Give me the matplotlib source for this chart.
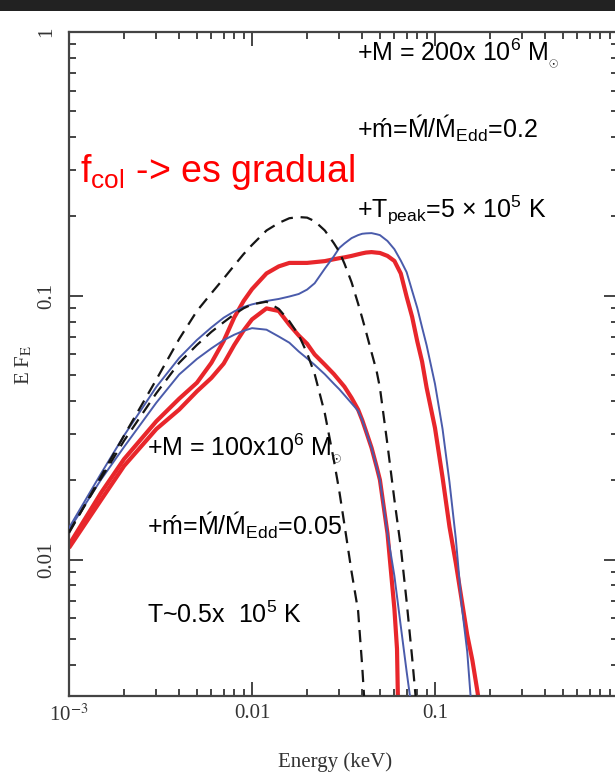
import matplotlib
matplotlib.use('Agg')
import matplotlib.pyplot as plt
from matplotlib.patches import Rectangle
from matplotlib.ticker import LogLocator, NullFormatter, FixedLocator, FixedFormatter

plt.rcParams['mathtext.fontset'] = 'custom'
plt.rcParams['mathtext.rm'] = 'Liberation Sans'
plt.rcParams['mathtext.it'] = 'Liberation Sans:italic'
plt.rcParams['mathtext.bf'] = 'Liberation Sans:bold'

# ---------------- data (Energy in keV, E F_E) ----------------
E_bb_hot = [0.001, 0.0015, 0.002, 0.003, 0.004, 0.005, 0.006, 0.007, 0.008, 0.009, 0.01, 0.012,
            0.014, 0.016, 0.018, 0.02, 0.022, 0.025, 0.028, 0.03, 0.032, 0.035, 0.038, 0.04,
            0.042, 0.045, 0.048, 0.05, 0.055, 0.06, 0.065, 0.07, 0.075, 0.08]
F_bb_hot = [0.01265, 0.0208, 0.0296, 0.0482, 0.0687, 0.0877, 0.1024, 0.1164, 0.1305, 0.1441, 0.156,
            0.177, 0.189, 0.197, 0.199, 0.198, 0.192, 0.177, 0.1585, 0.147, 0.1326, 0.1127, 0.0935,
            0.0826, 0.0731, 0.0611, 0.0518, 0.0449, 0.0273, 0.0169, 0.0112, 0.00694, 0.00426, 0.00259]

E_bb_cool = [0.001, 0.0015, 0.002, 0.003, 0.004, 0.005, 0.006, 0.007, 0.008, 0.009, 0.01, 0.012,
             0.014, 0.016, 0.018, 0.02, 0.022, 0.025, 0.028, 0.03, 0.032, 0.035, 0.038, 0.04, 0.042]
F_bb_cool = [0.01277, 0.0204, 0.0283, 0.0428, 0.0558, 0.0652, 0.0731, 0.0795, 0.0852, 0.0898, 0.0929,
             0.0951, 0.0893, 0.0802, 0.0711, 0.0607, 0.0506, 0.0359, 0.0239, 0.0182, 0.0136,
             0.00901, 0.00641, 0.00397, 0.0023]

E_blue_200 = [0.001, 0.0015, 0.002, 0.003, 0.004, 0.005, 0.006, 0.007, 0.008, 0.009, 0.01, 0.012,
              0.014, 0.016, 0.018, 0.02, 0.022, 0.025, 0.028, 0.03, 0.032, 0.035, 0.038, 0.04,
              0.042, 0.045, 0.048, 0.05, 0.055, 0.06, 0.065, 0.07, 0.075, 0.08, 0.085, 0.09, 0.1,
              0.11, 0.12, 0.13, 0.14, 0.15, 0.16]
F_blue_200 = [0.01322, 0.0213, 0.0296, 0.0452, 0.0582, 0.0681, 0.0760, 0.0827, 0.0874, 0.0908, 0.0929,
              0.0957, 0.0974, 0.0995, 0.1017, 0.1057, 0.1117, 0.1269, 0.1413, 0.152, 0.158, 0.1656,
              0.170, 0.172, 0.1726, 0.173, 0.1713, 0.170, 0.1615, 0.1503, 0.1362, 0.123, 0.1046,
              0.0901, 0.0760, 0.0650, 0.0464, 0.0313, 0.0197, 0.0120, 0.0067, 0.00449, 0.00248]

E_blue_100 = [0.001, 0.0015, 0.002, 0.003, 0.004, 0.005, 0.006, 0.007, 0.008, 0.009, 0.01, 0.012,
              0.014, 0.016, 0.018, 0.02, 0.022, 0.025, 0.028, 0.03, 0.032, 0.035, 0.038, 0.04,
              0.042, 0.045, 0.048, 0.05, 0.055, 0.06, 0.065, 0.07, 0.075]
F_blue_100 = [0.0130, 0.0202, 0.0268, 0.0394, 0.0504, 0.0577, 0.0633, 0.0680, 0.0713, 0.0738, 0.0755,
              0.0745, 0.0702, 0.0665, 0.0616, 0.0580, 0.0548, 0.0505, 0.0465, 0.0443, 0.0421, 0.0392,
              0.0367, 0.0339, 0.0307, 0.0266, 0.0225, 0.0201, 0.01259, 0.00869, 0.00562, 0.00377,
              0.00265]

E_red_200 = [0.001, 0.0015, 0.002, 0.003, 0.004, 0.005, 0.006, 0.007, 0.008, 0.009, 0.01, 0.012,
             0.014, 0.016, 0.018, 0.02, 0.022, 0.025, 0.028, 0.03, 0.032, 0.035, 0.038, 0.04,
             0.042, 0.045, 0.048, 0.05, 0.055, 0.06, 0.065, 0.07, 0.075, 0.08, 0.085, 0.09, 0.1,
             0.11, 0.12, 0.13, 0.14, 0.15, 0.16, 0.17, 0.18]
F_red_200 = [0.0114, 0.0180, 0.0241, 0.0335, 0.0408, 0.0469, 0.0558, 0.0675, 0.0829, 0.0957, 0.1061,
             0.1217, 0.1294, 0.1334, 0.1334, 0.1334, 0.1343, 0.1355, 0.1377, 0.139, 0.140, 0.1418,
             0.1438, 0.145, 0.146, 0.1466, 0.1459, 0.1455, 0.1418, 0.1357, 0.1217, 0.0993, 0.0833,
             0.0673, 0.0564, 0.0449, 0.0316, 0.0205, 0.01334, 0.00971, 0.00703, 0.0052, 0.00417,
             0.00322, 0.00248]

E_red_100 = [0.001, 0.0015, 0.002, 0.003, 0.004, 0.005, 0.006, 0.007, 0.008, 0.009, 0.01, 0.012,
             0.014, 0.016, 0.018, 0.02, 0.022, 0.025, 0.028, 0.03, 0.032, 0.035, 0.038, 0.04,
             0.042, 0.045, 0.048, 0.05, 0.055, 0.06, 0.062, 0.063]
F_red_100 = [0.0111, 0.0169, 0.0227, 0.0313, 0.0371, 0.0435, 0.0489, 0.0554, 0.0652, 0.0740, 0.0815,
             0.0897, 0.0877, 0.0778, 0.0708, 0.0659, 0.0600, 0.0549, 0.0506, 0.0478, 0.0453, 0.0411,
             0.0371, 0.0339, 0.0307, 0.0266, 0.0225, 0.0201, 0.0126, 0.00652, 0.0046, 0.0025]

x_ticks = [1e-3, 1e-2, 1e-1]
x_ticklabels = [r'10$^{-3}$', '0.01', '0.1']
y_ticks = [0.01, 0.1, 1]
y_ticklabels = ['0.01', '0.1', '1']

ann_200 = [r'+M = 200x 10$^6$ M$_{_{\odot}}$', r'+ḿ=Ḿ/Ḿ$_{\mathrm{Edd}}$=0.2',
           r'+T$_{\mathrm{peak}}$=5 × 10$^5$ K']
ann_100 = [r'+M = 100x10$^6$ M$_{_{\odot}}$', r'+ḿ=Ḿ/Ḿ$_{\mathrm{Edd}}$=0.05',
           r'T~0.5x  10$^5$ K']
red_title = r'f$_{\mathrm{col}}$ -> es gradual'

# ---------------- figure ----------------
W, H = 615, 773
fig = plt.figure(figsize=(W / 100, H / 100), dpi=100)
fig.patch.set_facecolor('white')
fig.patches.append(Rectangle((0, 1 - 11 / H), 1, 11 / H, transform=fig.transFigure,
                             facecolor='#222222', edgecolor='none', zorder=0))

ax = fig.add_axes([69 / W, 1 - 696 / H, 549 / W, 664 / H])
ax.set_xscale('log')
ax.set_yscale('log')
ax.set_xlim(1e-3, 1)
ax.set_ylim(3.05e-3, 1)

red = '#e8262b'
blue = '#4a5bab'
ax.plot(E_red_200, F_red_200, color=red, lw=3.0, solid_capstyle='butt', zorder=2)
ax.plot(E_red_100, F_red_100, color=red, lw=3.0, solid_capstyle='butt', zorder=2)
ax.plot(E_blue_200, F_blue_200, color=blue, lw=1.4, zorder=3)
ax.plot(E_blue_100, F_blue_100, color=blue, lw=1.4, zorder=3)
ax.plot(E_bb_hot, F_bb_hot, color='#151515', lw=1.6, dashes=(5.5, 3.5), zorder=4)
ax.plot(E_bb_cool, F_bb_cool, color='#151515', lw=1.6, dashes=(5.5, 3.5), zorder=4)

for s in ax.spines.values():
    s.set_linewidth(1.6)
    s.set_color('#444444')

ax.xaxis.set_major_locator(FixedLocator(x_ticks))
ax.xaxis.set_major_formatter(FixedFormatter(x_ticklabels))
ax.yaxis.set_major_locator(FixedLocator(y_ticks))
ax.yaxis.set_major_formatter(FixedFormatter(y_ticklabels))
ax.xaxis.set_minor_locator(LogLocator(base=10, subs=range(2, 10)))
ax.yaxis.set_minor_locator(LogLocator(base=10, subs=range(2, 10)))
ax.xaxis.set_minor_formatter(NullFormatter())
ax.yaxis.set_minor_formatter(NullFormatter())
ax.tick_params(which='both', direction='in', top=True, right=True, color='#444444', width=1.4)
ax.tick_params(which='major', length=10)
ax.tick_params(which='minor', length=5)
ax.tick_params(axis='x', which='major', pad=6)
ax.tick_params(axis='y', which='major', pad=9)

for lab in ax.get_xticklabels():
    lab.set_fontfamily('Liberation Serif')
    lab.set_fontsize(15)
    lab.set_color('#333333')
    lab.set_math_fontfamily('stix')
for lab in ax.get_yticklabels():
    lab.set_fontfamily('Liberation Serif')
    lab.set_fontsize(15)
    lab.set_color('#333333')
    lab.set_rotation(90)
    lab.set_va('center')

fig.text(24 / W, 1 - 365 / H, r'E F$_{\mathrm{E}}$', rotation=90, ha='center', va='center',
         fontsize=15, family='Liberation Serif', math_fontfamily='stix', color='#333333')
fig.text(335 / W, 1 - 762 / H, 'Energy (keV)', ha='center', va='center',
         fontsize=15, family='Liberation Serif', color='#333333')

sans = ['Liberation Sans', 'DejaVu Sans']
ys_200 = [60, 138, 218]
for t, yb in zip(ann_200, ys_200):
    fig.text(357 / W, 1 - yb / H, t, ha='left', va='baseline', fontsize=18, family=sans,
             color='black')
ys_100 = [455, 535, 623]
for t, yb in zip(ann_100, ys_100):
    fig.text(147 / W, 1 - yb / H, t, ha='left', va='baseline', fontsize=18, family=sans,
             color='black')

fig.text(80 / W, 1 - 182 / H, red_title, ha='left', va='baseline', fontsize=27, family=sans,
         color='#ff0000')

fig.savefig('out.png', dpi=100)
